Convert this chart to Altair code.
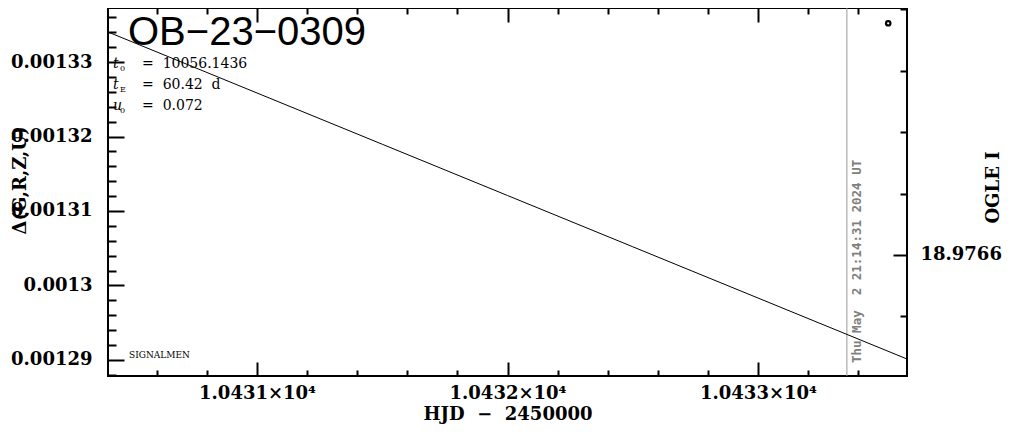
import altair as alt
import pandas as pd

# ---------------- data ----------------
hjd_model = [10430.405, 10431.0, 10431.5, 10432.0, 10432.5, 10433.0, 10433.595]
dflux_model = [0.00133403, 0.00132584, 0.00131896, 0.00131208, 0.00130520, 0.00129832, 0.00129013]
ogle_hjd = [10433.52]
ogle_dflux = [0.0013352]
now_hjd = [10433.355]
now_label = ["Thu May\u00a0\u00a02 21:14:31 2024 UT"]

x_major = [10431, 10432, 10433]
x_minor = [10430.6, 10430.8, 10431.2, 10431.4, 10431.6, 10431.8,
           10432.2, 10432.4, 10432.6, 10432.8, 10433.2, 10433.4]
y_major = [0.00129, 0.0013, 0.00131, 0.00132, 0.00133]
y_minor = [0.001288, 0.001292, 0.001294, 0.001296, 0.001298,
           0.001302, 0.001304, 0.001306, 0.001308,
           0.001312, 0.001314, 0.001316, 0.001318,
           0.001322, 0.001324, 0.001326, 0.001328,
           0.001332, 0.001334, 0.001336]
mag_major = [18.9766]
mag_minor = [18.9762, 18.9763, 18.9764, 18.9765, 18.9767]

event_name = "OB\u221223\u22120309"
param_symbols = ["t", "t", "u"]
param_subs = ["0", "E", "0"]
param_values = ["=\u00a0\u00a010056.1436", "=\u00a0\u00a060.42\u00a0\u00a0d", "=\u00a0\u00a00.072"]
signature = "SIGNALMEN"
x_title = "HJD\u00a0\u00a0\u2212\u00a0\u00a02450000"
y_title = "\u0394(G,R,Z,U)"
mag_title = "OGLE I"

# ---------------- layout ----------------
W, H = 799, 368
FONT = "DejaVu Serif"

xs = alt.Scale(domain=[10430.405, 10433.595], nice=False, zero=False)
ys = alt.Scale(domain=[0.00128785, 0.00133725], nice=False, zero=False)
ms = alt.Scale(domain=[18.97619837, 18.97679675], nice=False, zero=False, reverse=True)


def tick_axis(orient, offset, values, size):
    return alt.Axis(orient=orient, offset=offset, values=values, tickSize=size,
                    tickWidth=2, tickColor="black", labels=False, domain=False,
                    grid=False, title=None, zindex=1)


model_df = pd.DataFrame({"hjd": hjd_model, "dflux": dflux_model})
line = alt.Chart(model_df).mark_line(color="black", strokeWidth=1).encode(
    x=alt.X("hjd:Q", scale=xs, axis=alt.Axis(
        orient="bottom", values=x_major,
        labelExpr="format(datum.value/10000, '.4f') + '\u00d710\u2074'",
        ticks=False, tickSize=0, domain=False, grid=False, labelPadding=8,
        title=x_title, titleX=W / 2, titleY=38, titleAlign="center",
        titleBaseline="middle")),
    y=alt.Y("dflux:Q", scale=ys, axis=alt.Axis(
        orient="left", values=y_major,
        labelExpr="format(datum.value, '.5~f')",
        ticks=False, tickSize=0, domain=False, grid=False, labelPadding=16,
        title=y_title, titleAngle=270, titleX=-88, titleY=172,
        titleAlign="center", titleBaseline="middle")),
)

ogle = alt.Chart(pd.DataFrame({"hjd": ogle_hjd, "dflux": ogle_dflux})).mark_point(
    shape="circle", filled=False, color="black", size=20, strokeWidth=2.2, opacity=1
).encode(
    x=alt.X("hjd:Q", scale=xs, axis=None),
    y=alt.Y("dflux:Q", scale=ys, axis=None),
)

xmaj_df = pd.DataFrame({"hjd": x_major})
xmin_df = pd.DataFrame({"hjd": x_minor})
ymaj_df = pd.DataFrame({"dflux": y_major})
ymin_df = pd.DataFrame({"dflux": y_minor})

bottom_major = alt.Chart(xmaj_df).mark_point(opacity=0).encode(
    x=alt.X("hjd:Q", scale=xs, axis=tick_axis("top", -H, x_major, 14)))
bottom_minor = alt.Chart(xmin_df).mark_point(opacity=0).encode(
    x=alt.X("hjd:Q", scale=xs, axis=tick_axis("top", -H, x_minor, 6)))
top_major = alt.Chart(xmaj_df).mark_point(opacity=0).encode(
    x=alt.X("hjd:Q", scale=xs, axis=tick_axis("bottom", -H, x_major, 14)))
top_minor = alt.Chart(xmin_df).mark_point(opacity=0).encode(
    x=alt.X("hjd:Q", scale=xs, axis=tick_axis("bottom", -H, x_minor, 6)))
left_major = alt.Chart(ymaj_df).mark_point(opacity=0).encode(
    y=alt.Y("dflux:Q", scale=ys, axis=tick_axis("right", -W, y_major, 16)))
left_minor = alt.Chart(ymin_df).mark_point(opacity=0).encode(
    y=alt.Y("dflux:Q", scale=ys, axis=tick_axis("right", -W, y_minor, 8)))

now_df = pd.DataFrame({"hjd": now_hjd, "label": now_label})
now_rule = alt.Chart(now_df).mark_rule(color="#999999", strokeWidth=1).encode(
    x=alt.X("hjd:Q", scale=xs, axis=None))
now_text = alt.Chart(now_df).mark_text(
    angle=270, align="left", baseline="middle", dy=10.5, color="#808080",
    font="DejaVu Sans Mono", fontWeight="bold", fontSize=12.5
).encode(x=alt.X("hjd:Q", scale=xs, axis=None), y=alt.value(355), text="label:N")

texts = [
    alt.Chart(pd.DataFrame({"t": [event_name]})).mark_text(
        align="left", baseline="alphabetic", font="Liberation Sans", fontSize=40,
        color="black").encode(x=alt.value(20), y=alt.value(37), text="t:N"),
    alt.Chart(pd.DataFrame({"t": [signature]})).mark_text(
        align="left", baseline="alphabetic", font=FONT, fontSize=9,
        color="black").encode(x=alt.value(21), y=alt.value(350), text="t:N"),
]
baselines = [60, 81, 102]
for sym, sub, val, by in zip(param_symbols, param_subs, param_values, baselines):
    texts.append(alt.Chart(pd.DataFrame({"t": [sym]})).mark_text(
        align="left", baseline="alphabetic", font=FONT, fontSize=14,
        fontStyle="italic", color="black").encode(x=alt.value(5), y=alt.value(by), text="t:N"))
    texts.append(alt.Chart(pd.DataFrame({"t": [sub]})).mark_text(
        align="left", baseline="alphabetic", font=FONT, fontSize=8,
        color="black").encode(x=alt.value(12), y=alt.value(by + 3), text="t:N"))
    texts.append(alt.Chart(pd.DataFrame({"t": [val]})).mark_text(
        align="left", baseline="alphabetic", font=FONT, fontSize=14,
        color="black").encode(x=alt.value(34), y=alt.value(by), text="t:N"))

left_group = alt.layer(
    now_rule, line, ogle, bottom_major, bottom_minor, top_major, top_minor,
    left_major, left_minor, now_text, *texts
).resolve_axis(x="independent", y="independent")

magmaj_df = pd.DataFrame({"mag": mag_major})
magmin_df = pd.DataFrame({"mag": mag_minor})
right_labels = alt.Chart(magmaj_df).mark_point(opacity=0).encode(
    y=alt.Y("mag:Q", scale=ms, axis=alt.Axis(
        orient="right", values=mag_major, format=".4f", ticks=False, tickSize=0,
        domain=False, grid=False, labelPadding=13,
        title=mag_title, titleAngle=270, titleX=86, titleY=179,
        titleAlign="center", titleBaseline="middle")))
right_major = alt.Chart(magmaj_df).mark_point(opacity=0).encode(
    y=alt.Y("mag:Q", scale=ms, axis=tick_axis("left", -W, mag_major, 14)))
right_minor = alt.Chart(magmin_df).mark_point(opacity=0).encode(
    y=alt.Y("mag:Q", scale=ms, axis=tick_axis("left", -W, mag_minor, 7)))

right_group = alt.layer(right_labels, right_major, right_minor).resolve_axis(y="independent")

chart = alt.layer(left_group, right_group).resolve_scale(
    y="independent"
).resolve_axis(
    x="independent", y="independent"
).properties(
    width=W, height=H,
    autosize=alt.AutoSizeParams(type="none"),
    padding={"left": 100, "top": 0, "right": 96, "bottom": 50},
).configure_view(
    stroke="black", strokeWidth=2
).configure_axis(
    labelFont=FONT, labelFontWeight="bold", labelFontSize=18, labelColor="black",
    titleFont=FONT, titleFontWeight="bold", titleFontSize=18, titleColor="black",
)

chart.save("out.html", embed_options={"renderer": "svg", "actions": False})
